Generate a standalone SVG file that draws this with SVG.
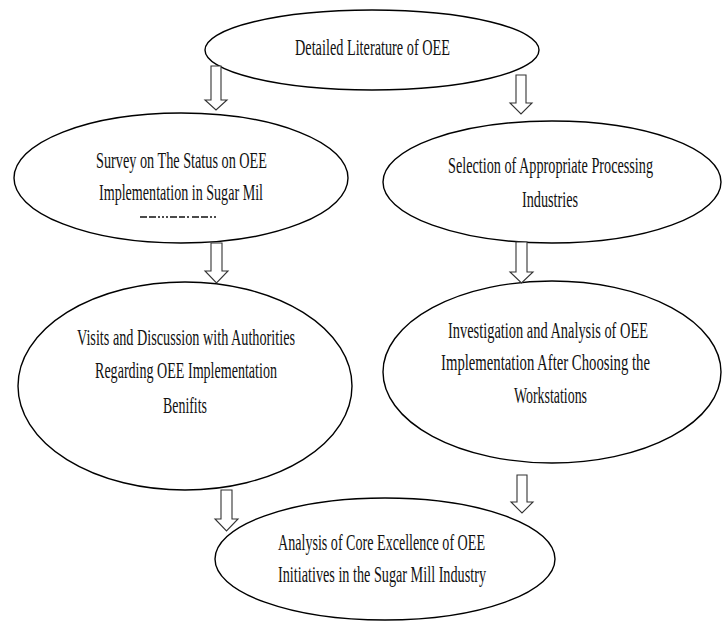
<svg xmlns="http://www.w3.org/2000/svg" width="724" height="622" viewBox="0 0 724 622">
<style>
.node ellipse{fill:#fff;stroke:#000;stroke-width:1.4}
.node text{font-family:"Liberation Serif","Times New Roman",serif;font-size:24px;fill:#111;text-anchor:middle}
.conn polygon{fill:#fff;stroke:#333;stroke-width:1.1}
</style>
<rect width="724" height="622" fill="#fff"/>
<g id="n1" class="node">
<ellipse cx="372" cy="50" rx="167" ry="40"/>
<text x="372.5" y="55" textLength="155" lengthAdjust="spacingAndGlyphs">Detailed Literature of OEE</text>
</g>
<g id="n2" class="node">
<ellipse cx="181" cy="178" rx="167" ry="65"/>
<text x="181.5" y="168" textLength="171" lengthAdjust="spacingAndGlyphs">Survey on The Status on OEE</text>
<text x="181" y="200" textLength="164" lengthAdjust="spacingAndGlyphs">Implementation in Sugar Mil</text>
<path d="M140 217H217" stroke="#111" stroke-width="1.3" stroke-dasharray="7 2 7 2 2 2 2 2 2 2 7 2 6 2 2 3"/>
</g>
<g id="n3" class="node">
<ellipse cx="552" cy="182" rx="169" ry="61"/>
<text transform="translate(550.5 173) scale(0.6 1)" x="0" y="0" textLength="341.7" lengthAdjust="spacingAndGlyphs">Selection of Appropriate Processing</text>
<text x="550" y="207" textLength="56" lengthAdjust="spacingAndGlyphs">Industries</text>
</g>
<g id="n4" class="node">
<ellipse cx="185" cy="386" rx="167" ry="104"/>
<text x="186" y="345" textLength="218" lengthAdjust="spacingAndGlyphs">Visits and Discussion with Authorities</text>
<text x="186" y="378" textLength="182" lengthAdjust="spacingAndGlyphs">Regarding OEE Implementation</text>
<text x="185" y="413" textLength="44" lengthAdjust="spacingAndGlyphs">Benifits</text>
</g>
<g id="n5" class="node">
<ellipse cx="552" cy="372" rx="169" ry="91"/>
<text transform="translate(548 338) scale(0.6 1)" x="0" y="0" textLength="333.3" lengthAdjust="spacingAndGlyphs">Investigation and Analysis of OEE</text>
<text transform="translate(545.5 370) scale(0.6 1)" x="0" y="0" textLength="348.3" lengthAdjust="spacingAndGlyphs">Implementation After Choosing the</text>
<text x="550.5" y="403" textLength="73" lengthAdjust="spacingAndGlyphs">Workstations</text>
</g>
<g id="n6" class="node">
<ellipse cx="385" cy="559" rx="170" ry="61"/>
<text x="381.5" y="550" textLength="207" lengthAdjust="spacingAndGlyphs">Analysis of Core Excellence of OEE</text>
<text x="382" y="582" textLength="208" lengthAdjust="spacingAndGlyphs">Initiatives in the Sugar Mill Industry</text>
</g>
<g id="connectors" class="conn">
<polygon points="211,66 221,66 221,100 227,100 216,110 205,100 211,100"/>
<polygon points="516,75 526,75 526,103 532,103 521,114 510,103 516,103"/>
<polygon points="211,243 222,243 222,271 228,271 216.5,283 205,271 211,271"/>
<polygon points="516,242 527,242 527,272 533,272 521.5,283 510,272 516,272"/>
<polygon points="221,490 232,490 232,519 238,519 226.5,531 215,519 221,519"/>
<polygon points="517,475 527,475 527,502 533,502 522,513 511,502 517,502"/>
</g>
</svg>
